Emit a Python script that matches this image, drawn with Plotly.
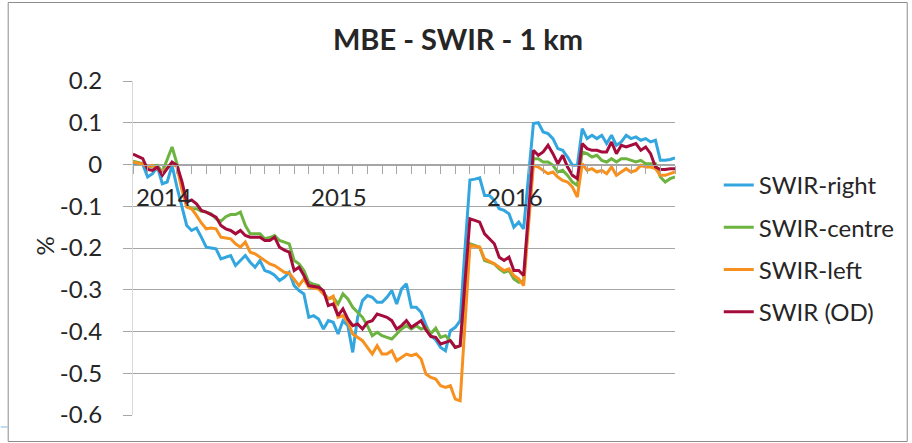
import plotly.graph_objects as go

# ---------------- data ----------------
series_names = ["SWIR-right", "SWIR-centre", "SWIR-left", "SWIR (OD)"]

swir_right = [
    0.0, 0.0, 0.0, -0.03, -0.022, -0.005, -0.046, -0.042, -0.002, -0.054,
    -0.1, -0.146, -0.158, -0.152, -0.174, -0.198, -0.2, -0.202, -0.226, -0.222,
    -0.218, -0.242, -0.23, -0.218, -0.234, -0.246, -0.23, -0.254, -0.258, -0.265,
    -0.278, -0.27, -0.258, -0.29, -0.302, -0.31, -0.366, -0.362, -0.37, -0.394,
    -0.374, -0.378, -0.406, -0.374, -0.386, -0.45, -0.366, -0.326, -0.314, -0.318,
    -0.33, -0.33, -0.318, -0.302, -0.334, -0.298, -0.286, -0.342, -0.342, -0.354,
    -0.385, -0.41, -0.42, -0.438, -0.446, -0.398, -0.39, -0.374, -0.2, -0.037,
    -0.035, -0.032, -0.074, -0.074, -0.086, -0.106, -0.11, -0.118, -0.15, -0.138,
    -0.154, -0.028, 0.098, 0.1, 0.078, 0.074, 0.062, 0.038, 0.034, 0.018,
    -0.002, -0.002, 0.086, 0.062, 0.07, 0.062, 0.07, 0.05, 0.07, 0.046,
    0.054, 0.07, 0.062, 0.066, 0.058, 0.062, 0.054, 0.058, 0.01, 0.01,
    0.012, 0.016,
]

swir_centre = [
    0.008, 0.005, 0.002, -0.006, -0.004, -0.002, -0.018, 0.012, 0.042, 0.002,
    -0.05, -0.098, -0.106, -0.106, -0.112, -0.114, -0.118, -0.13, -0.136, -0.125,
    -0.12, -0.12, -0.114, -0.146, -0.166, -0.166, -0.166, -0.178, -0.175, -0.17,
    -0.182, -0.186, -0.19, -0.23, -0.238, -0.254, -0.282, -0.287, -0.29, -0.306,
    -0.322, -0.318, -0.334, -0.31, -0.322, -0.342, -0.354, -0.366, -0.386, -0.41,
    -0.402, -0.41, -0.414, -0.418, -0.406, -0.394, -0.386, -0.394, -0.386, -0.394,
    -0.39, -0.405, -0.392, -0.414, -0.41, -0.422, -0.438, -0.434, -0.31, -0.19,
    -0.194, -0.198, -0.23, -0.234, -0.238, -0.25, -0.258, -0.254, -0.274, -0.282,
    -0.278, -0.132, 0.014, 0.014, 0.006, 0.006, -0.002, -0.018, -0.014, -0.026,
    -0.042, -0.05, 0.03, 0.026, 0.018, 0.022, 0.01, 0.006, 0.014, 0.006,
    0.014, 0.014, 0.01, 0.006, 0.01, 0.002, 0.002, 0.002, -0.03, -0.042,
    -0.034, -0.03,
]

swir_left = [
    0.006, 0.003, 0.0, -0.005, -0.002, -0.01, -0.018, -0.008, 0.002, -0.005,
    -0.06, -0.102, -0.106, -0.122, -0.14, -0.154, -0.152, -0.154, -0.174, -0.176,
    -0.178, -0.19, -0.198, -0.186, -0.21, -0.214, -0.222, -0.23, -0.238, -0.242,
    -0.25, -0.258, -0.26, -0.274, -0.29, -0.274, -0.294, -0.296, -0.298, -0.31,
    -0.322, -0.315, -0.366, -0.362, -0.378, -0.406, -0.414, -0.422, -0.438, -0.454,
    -0.434, -0.454, -0.454, -0.446, -0.47, -0.462, -0.454, -0.458, -0.454, -0.466,
    -0.502, -0.51, -0.514, -0.53, -0.534, -0.53, -0.562, -0.566, -0.38, -0.194,
    -0.196, -0.198, -0.226, -0.232, -0.238, -0.246, -0.254, -0.25, -0.266, -0.274,
    -0.29, -0.146, -0.002, -0.006, -0.014, -0.022, -0.018, -0.03, -0.038, -0.042,
    -0.054, -0.078, 0.002, -0.014, -0.01, -0.018, -0.014, -0.022, -0.006, -0.026,
    -0.018, -0.01, -0.018, -0.014, -0.002, -0.006, -0.006, -0.01, -0.026, -0.026,
    -0.022, -0.018,
]

swir_od = [
    0.025, 0.02, 0.014, -0.012, -0.014, -0.006, -0.026, -0.01, 0.006, -0.002,
    -0.04, -0.09, -0.085, -0.094, -0.11, -0.114, -0.12, -0.126, -0.146, -0.154,
    -0.158, -0.166, -0.158, -0.17, -0.174, -0.174, -0.174, -0.182, -0.182, -0.174,
    -0.198, -0.205, -0.21, -0.254, -0.246, -0.266, -0.29, -0.292, -0.294, -0.302,
    -0.338, -0.334, -0.362, -0.346, -0.37, -0.386, -0.382, -0.394, -0.378, -0.374,
    -0.358, -0.362, -0.366, -0.374, -0.394, -0.386, -0.374, -0.39, -0.382, -0.374,
    -0.396, -0.412, -0.414, -0.43, -0.426, -0.422, -0.438, -0.434, -0.28, -0.13,
    -0.134, -0.138, -0.166, -0.178, -0.19, -0.222, -0.23, -0.222, -0.254, -0.254,
    -0.266, -0.116, 0.034, 0.022, 0.03, 0.046, 0.026, 0.002, 0.022, -0.006,
    -0.026, -0.034, 0.05, 0.038, 0.034, 0.034, 0.03, 0.03, 0.054, 0.026,
    0.046, 0.042, 0.046, 0.05, 0.034, 0.042, 0.026, -0.006, -0.012, -0.012,
    -0.01, -0.01,
]

year_labels = ["2014", "2015", "2016"]
y_tick_values = [-0.6, -0.5, -0.4, -0.3, -0.2, -0.1, 0.0, 0.1, 0.2]
y_tick_labels = ["-0.6", "-0.5", "-0.4", "-0.3", "-0.2", "-0.1", "0", "0.1", "0.2"]

# ---------------- styling ----------------
FONT = "Lato, Carlito, Calibri, sans-serif"
TXT = "#262626"
GRID = "#a6a6a6"
colors = ["#33A6DF", "#6DB33F", "#F7901E", "#A50C3C"]
all_series = [swir_right, swir_centre, swir_left, swir_od]

n = len(swir_right)
x = list(range(n))
per_year = 36          # dekads per year
first_label = 6.27     # category where the first year label sits

fig = go.Figure()
for i, (name, vals) in enumerate(zip(series_names, all_series)):
    fig.add_trace(go.Scatter(
        x=x, y=vals, mode="lines", name=name,
        line=dict(color=colors[i], width=3),
        legendgroup=name,
    ))

W, H = 912, 443
L, R, T, B = 133, 234, 81, 28
pw, ph = W - L - R, H - T - B

def px_to_paper_x(px):
    return (px - L) / pw

def py_to_paper_y(py):
    return (H - B - py) / ph

annotations = []
for k, lab in enumerate(year_labels):
    annotations.append(dict(
        x=first_label + per_year * k, y=-0.077, xref="x", yref="y",
        text=lab, showarrow=False, xanchor="center", yanchor="middle",
        font=dict(family=FONT, size=24, color=TXT),
    ))
annotations.append(dict(
    x=px_to_paper_x(45), y=py_to_paper_y(246), xref="paper", yref="paper",
    text="%", showarrow=False, textangle=-90, xanchor="center", yanchor="middle",
    font=dict(family=FONT, size=24, color=TXT),
))

shapes = [
    dict(type="rect", xref="paper", yref="paper",
         x0=px_to_paper_x(7.5), x1=px_to_paper_x(911.5),
         y0=py_to_paper_y(441.5), y1=py_to_paper_y(2.5),
         line=dict(color="#8c8c8c", width=1), fillcolor="rgba(0,0,0,0)", layer="below"),
    dict(type="line", xref="paper", yref="paper",
         x0=px_to_paper_x(0), x1=px_to_paper_x(7),
         y0=py_to_paper_y(427), y1=py_to_paper_y(427),
         line=dict(color="#7fb8e6", width=1)),
]

fig.update_layout(
    width=W, height=H,
    margin=dict(l=L, r=R, t=T, b=B, pad=0),
    paper_bgcolor="white", plot_bgcolor="white",
    font=dict(family=FONT, size=24, color=TXT),
    title=dict(text="<b>MBE - SWIR - 1 km</b>", x=458 / W, xref="container",
               xanchor="center", y=1 - 40 / H, yanchor="middle", yref="container",
               font=dict(family=FONT, size=29, color=TXT)),
    showlegend=True,
    legend=dict(x=px_to_paper_x(722), y=py_to_paper_y(163), xanchor="left", yanchor="top",
                xref="paper", yref="paper",
                font=dict(family=FONT, size=24, color=TXT),
                traceorder="grouped", tracegroupgap=8,
                bgcolor="rgba(0,0,0,0)", borderwidth=0),
    annotations=annotations,
    shapes=shapes,
)

fig.update_xaxes(
    range=[0, n - 1], showgrid=False, zeroline=False,
    anchor="free", position=0.75,
    showline=True, linecolor=GRID, linewidth=1,
    ticks="outside", tick0=0, dtick=3, ticklen=8, tickcolor=GRID, tickwidth=1,
    showticklabels=False,
)
fig.update_yaxes(
    range=[-0.6, 0.2], tickvals=y_tick_values, ticktext=y_tick_labels,
    showgrid=True, gridcolor=GRID, gridwidth=1, zeroline=False,
    showline=True, linecolor="#d9d9d9", linewidth=1,
    ticks="outside", ticklen=9, tickcolor=GRID, tickwidth=1,
    ticklabelstandoff=16,
    tickfont=dict(family=FONT, size=24, color=TXT),
)

fig.write_html("out.html", config={"displayModeBar": False},
               post_script="document.body.style.margin='0';")
